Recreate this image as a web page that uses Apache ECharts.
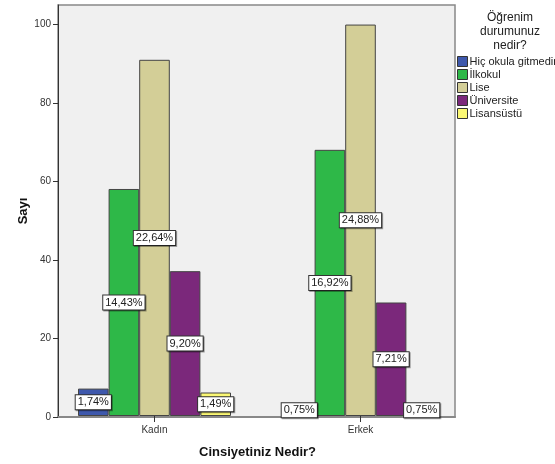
<!DOCTYPE html>
<html><head><meta charset="utf-8">
<script src="https://cdn.jsdelivr.net/npm/echarts@6/dist/echarts.min.js"></script>
<style>html,body{margin:0;padding:0;background:#fff}#c{width:555px;height:464px}</style>
</head><body><div id="c"></div>
<script>
const categories = ['Kadın', 'Erkek'];
const seriesNames = ['Hiç okula gitmedim', 'İlkokul', 'Lise', 'Üniversite', 'Lisansüstü'];
const hicOkula = [7, 3];
const ilkokul = [58, 68];
const lise = [91, 100];
const universite = [37, 29];
const lisansustu = [6, 3];
const total = 402;
const yTicks = [0, 20, 40, 60, 80, 100];
const colors = ['#3e58ac', '#2eb848', '#d3ce97', '#7b287b', '#fbf873'];
const values = [hicOkula, ilkokul, lise, universite, lisansustu];
const FONT = 'Liberation Sans, Arial, sans-serif';

const chart = echarts.init(document.getElementById('c'));
chart.setOption({
  animation: false,
  textStyle: { fontFamily: FONT },
  title: {
    text: 'Öğrenim\ndurumunuz\nnedir?',
    left: 505, top: 6, textAlign: 'center',
    textStyle: { fontSize: 12, fontWeight: 'normal', color: '#222', lineHeight: 14, fontFamily: FONT }
  },
  legend: {
    orient: 'vertical', left: 457, top: 56, padding: 0,
    itemWidth: 10, itemHeight: 10, itemGap: 2, icon: 'rect',
    itemStyle: { borderColor: '#333', borderWidth: 1 },
    textStyle: { fontSize: 11, color: '#222', fontFamily: FONT, padding: [0, 0, 0, -3] },
    data: seriesNames
  },
  grid: [
    { left: 58, top: 5, width: 397, height: 412, show: true, backgroundColor: '#f0f0f0', borderColor: '#888', borderWidth: 1.5 },
    { left: 51.5, top: 5, width: 412, height: 412 }
  ],
  xAxis: [
    { type: 'category', gridIndex: 0, data: categories, axisLabel: { show: false }, axisTick: { show: false },
      axisLine: { lineStyle: { color: '#888', width: 2 } } },
    { type: 'category', gridIndex: 1, data: categories,
      axisLine: { show: false },
      axisTick: { show: true, alignWithLabel: true, length: 6, lineStyle: { color: '#333' } },
      axisLabel: { fontSize: 10, color: '#333', margin: 9, fontFamily: FONT },
      name: 'Cinsiyetiniz Nedir?', nameLocation: 'middle', nameGap: 30, nameMoveOverlap: false,
      nameTextStyle: { fontSize: 13, fontWeight: 'bold', color: '#111', fontFamily: FONT } }
  ],
  yAxis: [
    { type: 'value', gridIndex: 0, min: 0, max: 105, interval: 20,
      axisLine: { show: true, lineStyle: { color: '#333' } },
      axisTick: { show: true, length: 5, customValues: yTicks, lineStyle: { color: '#333' } },
      axisLabel: { customValues: yTicks, fontSize: 10, color: '#333', margin: 7, fontFamily: FONT },
      splitLine: { show: false },
      name: 'Sayı', nameLocation: 'middle', nameGap: 28, nameRotate: 90, nameMoveOverlap: false,
      nameTextStyle: { fontSize: 13, fontWeight: 'bold', color: '#111', fontFamily: FONT } },
    { type: 'value', gridIndex: 1, min: 0, max: 105, show: false, splitLine: { show: false } }
  ],
  series: seriesNames.map((n, i) => ({
    name: n, type: 'bar', xAxisIndex: 1, yAxisIndex: 1,
    data: values[i], barWidth: 30.6, barGap: '0%',
    itemStyle: { color: colors[i], borderColor: '#444', borderWidth: 1 },
    label: {
      show: true, position: 'inside',
      formatter: p => (p.value / total * 100).toFixed(2).replace('.', ',') + '%',
      fontSize: 11, color: '#222', fontFamily: FONT,
      backgroundColor: '#fff', borderColor: '#333', borderWidth: 1,
      padding: [2, 2, 1, 2],
      shadowColor: 'rgba(0,0,0,0.35)', shadowOffsetX: 1, shadowOffsetY: 1, shadowBlur: 0
    }
  }))
});
</script></body></html>
